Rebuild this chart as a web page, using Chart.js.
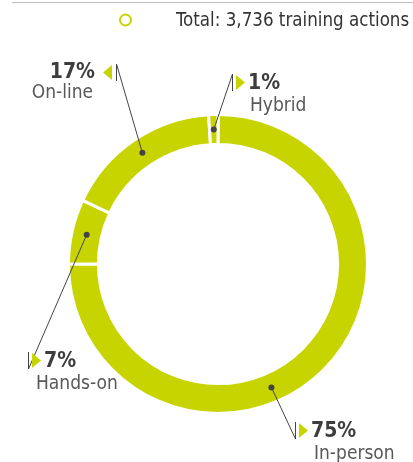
<!DOCTYPE html>
<html>
<head>
<meta charset="utf-8">
<script src="https://cdn.jsdelivr.net/npm/chart.js@4/dist/chart.umd.min.js"></script>
<style>
  html, body { margin: 0; padding: 0; background: #fff; }
  #wrap { width: 413px; height: 462px; }
</style>
</head>
<body>
<div id="wrap"><canvas id="chartModalidad"></canvas></div>
<script>
// training actions by delivery mode (share of total, %)
const categories = ['In-person', 'Hands-on', 'On-line', 'Hybrid'];
const shares = [75, 7, 17, 1];
const totalActions = '3,736';

const lime = '#c8d400';
const darkText = '#3d3d3d';
const softText = '#585858';

// where each callout sits: x of the little bar, its top, arrow side,
// and how far along its arc the dot goes
const callouts = {
  'In-person': { x: 295, y: 422, side: 'right', nameDx: 19, along: 0.58 },
  'Hands-on':  { x: 28,  y: 352, side: 'right', nameDx: 8,  along: 0.5 },
  'On-line':   { x: 116, y: 64,  side: 'left',  nameDx: 0,  along: 0.5 },
  'Hybrid':    { x: 232, y: 74,  side: 'right', nameDx: 18, along: 0.5 }
};

const extras = {
  id: 'extras',
  beforeDraw(chart) {
    const ctx = chart.ctx;
    ctx.save();
    // thin rule on top
    ctx.strokeStyle = '#bdbdbd';
    ctx.lineWidth = 1;
    ctx.beginPath();
    ctx.moveTo(12, 2.5);
    ctx.lineTo(413, 2.5);
    ctx.stroke();
    // legend
    ctx.strokeStyle = lime;
    ctx.lineWidth = 2;
    ctx.beginPath();
    ctx.arc(125.5, 20, 5.5, 0, Math.PI * 2);
    ctx.stroke();
    ctx.fillStyle = '#333';
    ctx.font = '18.6px "DejaVu Sans Condensed"';
    ctx.textBaseline = 'alphabetic';
    ctx.fillText('Total: ' + totalActions + ' training actions', 176, 26);
    ctx.restore();
  },
  afterDatasetsDraw(chart) {
    const ctx = chart.ctx;
    const arcs = chart.getDatasetMeta(0).data;
    ctx.save();
    arcs.forEach(function(arc, i) {
      const p = arc.getProps(['x', 'y', 'startAngle', 'endAngle', 'innerRadius', 'outerRadius'], true);
      const c = callouts[categories[i]];
      const a = p.startAngle + (p.endAngle - p.startAngle) * c.along;
      const r = (p.innerRadius + p.outerRadius) / 2;
      const dotX = p.x + Math.cos(a) * r;
      const dotY = p.y + Math.sin(a) * r;
      const barH = 17;
      const joinY = dotY > c.y ? c.y : c.y + barH;

      // leader line
      ctx.strokeStyle = '#444';
      ctx.lineWidth = 1;
      ctx.beginPath();
      ctx.moveTo(dotX, dotY);
      ctx.lineTo(c.x + 0.5, joinY);
      ctx.stroke();
      ctx.beginPath();
      ctx.moveTo(c.x + 0.5, c.y);
      ctx.lineTo(c.x + 0.5, c.y + barH);
      ctx.stroke();
      ctx.fillStyle = '#444';
      ctx.beginPath();
      ctx.arc(dotX, dotY, 3, 0, Math.PI * 2);
      ctx.fill();

      // arrow
      ctx.fillStyle = lime;
      ctx.beginPath();
      if (c.side === 'right') {
        ctx.moveTo(c.x + 4, c.y + 1);
        ctx.lineTo(c.x + 13, c.y + 8.5);
        ctx.lineTo(c.x + 4, c.y + 16);
      } else {
        ctx.moveTo(c.x - 4, c.y + 1);
        ctx.lineTo(c.x - 13, c.y + 8.5);
        ctx.lineTo(c.x - 4, c.y + 16);
      }
      ctx.closePath();
      ctx.fill();

      // texts
      const pct = shares[i] + '%';
      ctx.textBaseline = 'alphabetic';
      if (c.side === 'right') {
        ctx.textAlign = 'left';
        ctx.fillStyle = darkText;
        ctx.font = 'bold 21px "DejaVu Sans Condensed"';
        ctx.fillText(pct, c.x + 16, c.y + 15);
        ctx.fillStyle = softText;
        ctx.font = '19px "DejaVu Sans Condensed"';
        ctx.fillText(categories[i], c.x + c.nameDx, c.y + 37);
      } else {
        ctx.textAlign = 'right';
        ctx.fillStyle = darkText;
        ctx.font = 'bold 21px "DejaVu Sans Condensed"';
        ctx.fillText(pct, c.x - 21, c.y + 14);
        ctx.fillStyle = softText;
        ctx.font = '19px "DejaVu Sans Condensed"';
        ctx.fillText(categories[i], c.x - 23, c.y + 34);
      }
    });
    ctx.restore();
  }
};

const ctx = document.getElementById('chartModalidad').getContext('2d');
const chart = new Chart(ctx, {
  type: 'doughnut',
  data: {
    labels: categories,
    datasets: [{
      data: shares,
      backgroundColor: lime,
      borderColor: '#ffffff',
      borderWidth: 3,
      hoverOffset: 0
    }]
  },
  options: {
    responsive: true,
    maintainAspectRatio: false,
    animation: false,
    cutout: '80%',
    layout: { padding: { left: 67, right: 44, top: 113, bottom: 47 } },
    plugins: {
      legend: { display: false },
      tooltip: { enabled: false }
    }
  },
  plugins: [extras]
});
</script>
</body>
</html>
